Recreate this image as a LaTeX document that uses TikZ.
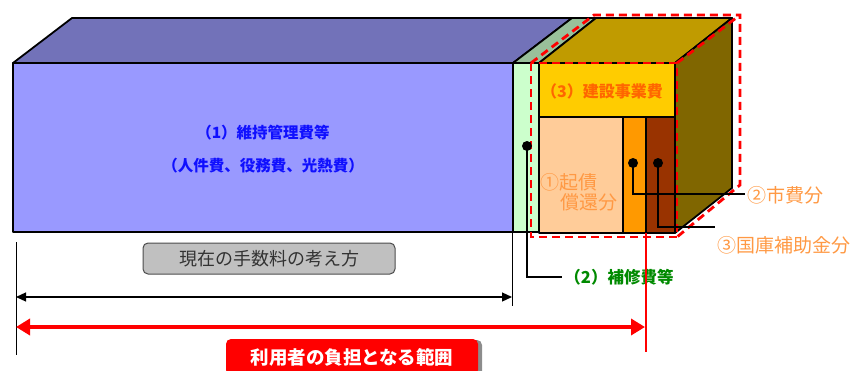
\documentclass[tikz,border=0pt]{standalone}
\usepackage{fontspec}
\setmainfont{Noto Sans CJK JP}
\usetikzlibrary{arrows.meta,shadows}
\definecolor{bluefront}{HTML}{9999FF}
\definecolor{bluetop}{HTML}{7272B9}
\definecolor{greenfront}{HTML}{CCFFCC}
\definecolor{greentop}{HTML}{99C09A}
\definecolor{cubetop}{HTML}{C09B00}
\definecolor{cuberight}{HTML}{806600}
\definecolor{bandyellow}{HTML}{FFCC00}
\definecolor{peach}{HTML}{FFCC99}
\definecolor{orangebar}{HTML}{FF9900}
\definecolor{brownbar}{HTML}{993300}
\definecolor{titleorange}{HTML}{FF6600}
\definecolor{lightorange}{HTML}{FF9944}
\definecolor{darkgreen}{HTML}{008A00}
\definecolor{textblue}{HTML}{1010FF}
\definecolor{boxgray}{HTML}{C0C0C0}
\tikzset{
  face/.style={draw=black, line width=1.8pt, line join=round},
  dotmark/.style={circle, fill=black, inner sep=0pt, minimum size=10pt},
  conn/.style={draw=black, line width=1.1pt},
  redoutline/.style={draw=red, line width=2.8pt, dash pattern=on 8pt off 5pt},
  bluetxt/.style={text=textblue, font=\fontsize{15.5}{18}\selectfont\bfseries, inner sep=0pt},
  sidelabel/.style={text=lightorange, font=\fontsize{19}{21}\selectfont, inner sep=1pt, anchor=west},
}
\begin{document}
\begin{tikzpicture}[x=1pt,y=-1pt]
\useasboundingbox (0,0) rectangle (865,370);
% blue block
\filldraw[face, fill=bluetop] (13,63) -- (72,18) -- (572,18) -- (513,63) -- cycle;
\filldraw[face, fill=bluefront] (13,63) rectangle (513,232);
% green strip
\filldraw[face, fill=greentop] (513,63) -- (572,18) -- (596,18) -- (539,63) -- cycle;
\filldraw[face, fill=greenfront] (513,63) rectangle (539,232);
% cube
\filldraw[face, fill=cubetop] (539,63) -- (596,18) -- (732,18) -- (675,63) -- cycle;
\filldraw[face, fill=cuberight] (675,63) -- (732,18) -- (732,188) -- (675,233) -- cycle;
\filldraw[face, fill=bandyellow] (539,63) rectangle (675,117);
\filldraw[face, fill=peach] (539,117) rectangle (623,233);
\filldraw[face, fill=orangebar] (623,117) rectangle (646,233);
\filldraw[face, fill=brownbar] (646,117) rectangle (675,233);
% red dashed outline
\draw[redoutline] (531,63) rectangle (677,237);
\draw[redoutline] (531,63) -- (594,15) -- (740,15) -- (740,185) -- (677,237);
\draw[redoutline] (677,63) -- (740,15);
% texts in blocks
\node[bluetxt] (t1) at (263,133) {（1）維持管理費等};
\node[bluetxt] (t1b) at (263,166) {（人件費、役務費、光熱費）};
\node[text=titleorange, font=\fontsize{16}{18}\selectfont\bfseries, inner sep=0pt] (t3) at (602,91) {（3）建設事業費};
\node[sidelabel] (kisai) at (539,182) {①起債};
\node[sidelabel] (shokan) at (559,202) {償還分};
% dots
\node[dotmark] (dg) at (527,146) {};
\node[dotmark] (do) at (633,163) {};
\node[dotmark] (db) at (658,163) {};
% labels
\node[sidelabel] (lshi) at (746,195) {②市費分};
\node[sidelabel] (lkoku) at (716,245) {③国庫補助金分};
\node[text=darkgreen, font=\fontsize{16.5}{18}\selectfont\bfseries, inner sep=0pt] (lhosyu) at (619,277) {（2）補修費等};
\coordinate (eshi) at (745,194);
\coordinate (ekoku) at (715,227);
\coordinate (ehosyu) at (562,277);
% connectors
\draw[conn] (do.center) |- (eshi);
\draw[conn] (db.center) |- (ekoku);
\draw[conn] (dg.center) |- (ehosyu);
% guides
\coordinate (gl1) at (16,242);
\coordinate (gl2) at (16,355);
\coordinate (gr1) at (512,232);
\coordinate (gr2) at (512,306);
\coordinate (rr1) at (646,233);
\coordinate (rr2) at (646,352);
\draw[black, line width=1pt] (gl1) -- (gl2);
\draw[black, line width=1pt] (gr1) -- (gr2);
\draw[red, line width=1.4pt] (rr1) -- (rr2);
\coordinate (al) at (16,297);
\coordinate (ar) at (512,297);
\draw[black, line width=1.2pt, {Triangle[length=10pt,width=9pt]}-{Triangle[length=10pt,width=9pt]}] (al) -- (ar);
\coordinate (ral) at (16,327);
\coordinate (rar) at (645,327);
\draw[red, line width=4.5pt, {Triangle[length=14pt,width=16pt]}-{Triangle[length=14pt,width=16pt]}] (ral) -- (rar);
% boxes
\node[draw=black!70, fill=boxgray, rounded corners=5pt, minimum width=252pt, minimum height=31pt, line width=1pt,
      font=\fontsize{18}{20}\selectfont, text=black!80] (gen) at (269,258.5) {現在の手数料の考え方};
\node[fill=red, rounded corners=5pt, minimum width=252pt, minimum height=36pt,
      drop shadow={shadow xshift=4pt, shadow yshift=-1pt, fill=black!45, opacity=1},
      font=\fontsize{18.5}{20}\selectfont\bfseries, text=white] (riyo) at (352,357) {利用者の負担となる範囲};
\end{tikzpicture}
\end{document}
